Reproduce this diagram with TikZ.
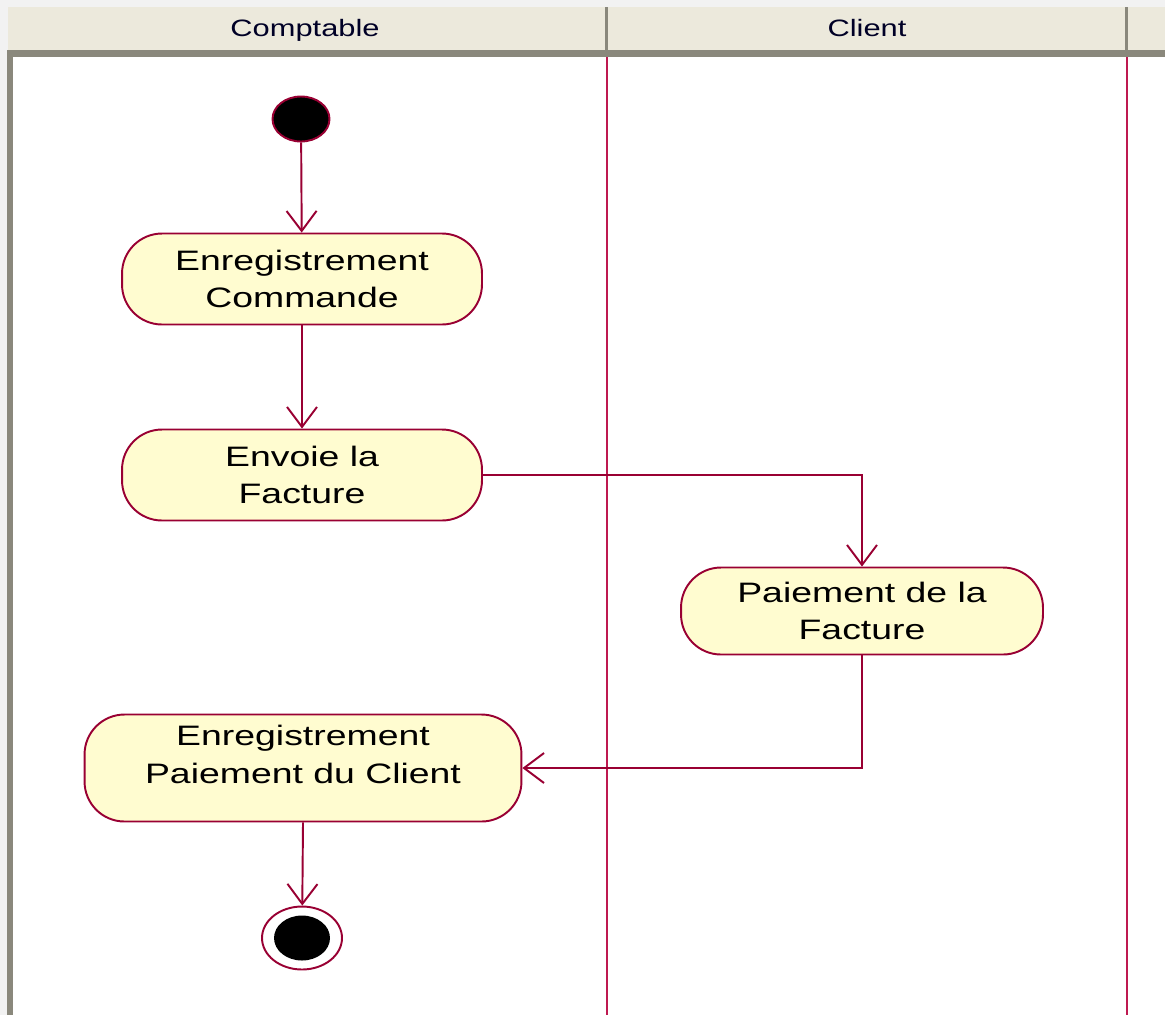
\documentclass[tikz,border=0pt]{standalone}
\usepackage{fontspec}
\setmainfont{Liberation Sans}
\newfontfamily\lanefont[FakeStretch=1.3]{Liberation Sans}
\newfontfamily\actfont[FakeStretch=1.33]{Liberation Sans}
\usetikzlibrary{arrows.meta}
\usetikzlibrary{shapes.geometric,positioning}

\definecolor{rosered}{RGB}{153,0,51}
\definecolor{lanered}{RGB}{190,25,80}
\definecolor{actfill}{RGB}{255,252,208}
\definecolor{headbg}{RGB}{236,233,220}
\definecolor{headline}{RGB}{138,136,124}
\definecolor{outerbg}{RGB}{242,242,242}

\tikzset{
  activity/.style={draw=rosered, line width=1.1pt, fill=actfill, rectangle,
    rounded corners=0.8cm, align=center, inner sep=0pt,
    font=\actfont\fontsize{16pt}{21.5pt}\selectfont},
  lanetitle/.style={font=\lanefont\fontsize{13.5pt}{15pt}\selectfont,
    text=black!85!blue, anchor=base},
  flow/.style={draw=rosered, line width=1.1pt,
    -{Straight Barb[length=0.4cm,width=0.6cm,line width=1.1pt]}}
}

\begin{document}
\begin{tikzpicture}[x=0.02cm, y=-0.02cm]
			\useasboundingbox (0,0) rectangle (1165,1015);
			% swimlanes
			\fill[outerbg] (0,0) rectangle (1165,1015);
			\fill[white] (13,57) rectangle (1165,1015);
			\fill[headbg] (8,7) rectangle (1165,50);
			\fill[headline] (8,50) rectangle (1165,57);
			\fill[headline] (7,50) rectangle (13,1015);
			\fill[headline] (605,7) rectangle (608,50);
			\fill[headline] (1125,7) rectangle (1128,50);
			\draw[lanered, line width=1.1pt] (607,57) -- (607,1015);
			\draw[lanered, line width=1.1pt] (1127,57) -- (1127,1015);
			\node[lanetitle] (Compt) at (305,36) {Comptable};
			\node[lanetitle] (Cli) at (867,36) {Client};
			% states
			\node[draw=rosered, line width=1.1pt, fill=black, ellipse, inner sep=0pt,
				minimum width=1.14cm, minimum height=0.9cm] (Start) at (301,119) {};
			\node[activity, minimum width=7.2cm, minimum height=1.82cm] (EC) at (302,279)
				{Enregistrement\\Commande};
			\draw[flow] (Start) -- (EC);
			\node[activity, minimum width=7.2cm, minimum height=1.82cm] (EF) at (302,475)
				{Envoie la\\Facture};
			\draw[flow] (EC) -- (EF);
			\node[activity, minimum width=7.24cm, minimum height=1.74cm] (PF) at (862,611)
				{Paiement de la\\Facture};
			\draw[flow] (EF.east) -| (PF.north);
			\node[activity, minimum width=8.74cm, minimum height=2.14cm, text depth=0.54cm] (EP) at (303,768)
				{Enregistrement\\Paiement du Client};
			\draw[flow] (PF.south) |- (EP.east);
			\node[draw=rosered, line width=1.1pt, fill=white, ellipse, inner sep=0pt,
				minimum width=1.6cm, minimum height=1.26cm] (End) at (302,938) {};
			\fill[black] (End.center) ellipse [x radius=0.56cm, y radius=0.45cm];
			\draw[flow] (EP.south) -- (End);
		\end{tikzpicture}
\end{document}
